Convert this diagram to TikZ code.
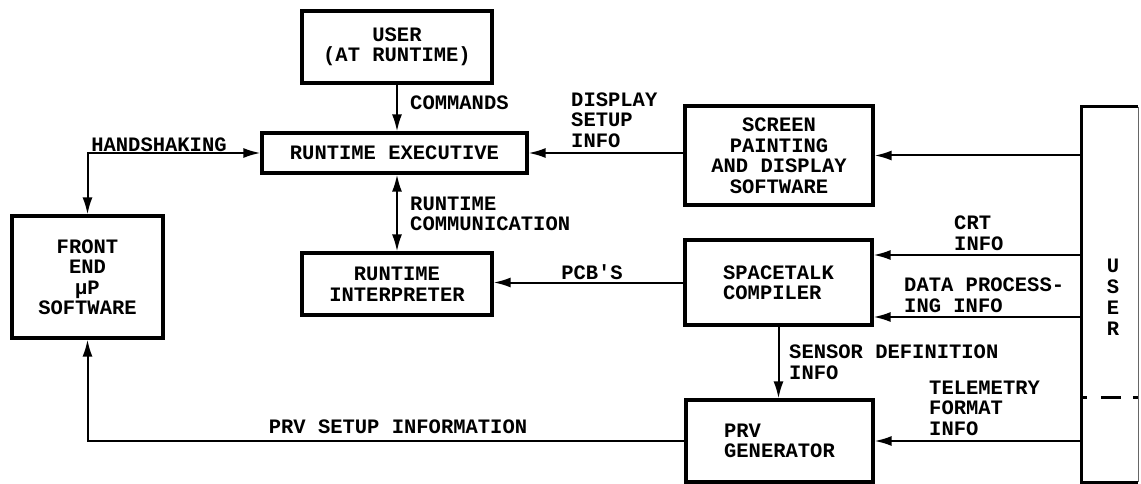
\documentclass[tikz,border=0pt]{standalone}
\usepackage{fontspec}
\setmainfont{Liberation Mono}
\usetikzlibrary{arrows.meta}

\begin{document}
\begin{tikzpicture}[
  x=1pt, y=-1pt,
  font=\fontsize{20.5}{20.5}\selectfont\bfseries,
  blk/.style={
    draw, line width=3.2pt,
    inner sep=0pt, align=center
  },
  arr/.style={-{Latex[length=17pt,width=10pt]},line width=2pt},
  darr/.style={{Latex[length=17pt,width=10pt]}-{Latex[length=17pt,width=10pt]},line width=2pt},
  lbl/.style={inner sep=0pt, align=left, anchor=west}
]
\useasboundingbox (0,0) rectangle (1141,484);

% blocks
\node[blk,minimum width=190pt,minimum height=72pt] (usr) at (397,47)
  {USER\\(AT RUNTIME)};
\node[blk,minimum width=265pt,minimum height=40pt] (rex) at (394.5,153)
  {RUNTIME EXECUTIVE};
\node[blk,minimum width=190pt,minimum height=62pt] (rin) at (397,284)
  {RUNTIME\\INTERPRETER};
\node[blk,minimum width=151pt,minimum height=122pt] (fe) at (87.5,277)
  {FRONT\\END\\µP\\SOFTWARE};
\node[blk,minimum width=188pt,minimum height=99pt] (scr) at (779,155.5)
  {SCREEN\\PAINTING\\AND DISPLAY\\SOFTWARE};
\node[blk,align=left,minimum width=187pt,minimum height=85pt] (stc) at (778.5,282.5)
  {SPACETALK\\COMPILER};
\node[blk,align=left,minimum width=187pt,minimum height=82pt] (prv) at (779.5,441)
  {PRV\\GENERATOR};
% tall user bar: thick on three sides, thin on the right
\node[inner sep=0pt,minimum width=56pt,minimum height=375pt] (usb) at (1110,294.5) {};
\draw[line width=3.2pt] (usb.north east) -- (usb.north west) -- (usb.south west) -- (usb.south east);
\draw[line width=0.8pt,black!60] (usb.north east) -- (usb.south east);
\node[inner sep=0pt,align=center,font=\fontsize{20.5}{21}\selectfont\bfseries] (usbt) at (1113,297)
  {U\\S\\E\\R};
\draw[line width=3pt,dash pattern=on 5pt off 14pt on 20pt off 12pt on 20pt]
  ([yshift=-102.5pt]usb.west) -- ([yshift=-102.5pt]usb.east);

% connectors
\draw[arr] (usr.south) -- (usr.south |- rex.north);
\draw[darr] (fe.north) |- (rex.west);
\draw[darr] (rin.north |- rex.south) -- (rin.north);
\draw[arr] (scr.west |- rex.east) -- (rex.east);
\draw[arr] (usb.west |- scr.east) -- (scr.east);
\draw[arr] ([yshift=27.5pt]stc.east -| usb.west) -- ([yshift=27.5pt]stc.east);
\draw[arr] ([yshift=-34.5pt]stc.east -| usb.west) -- ([yshift=-34.5pt]stc.east);
\draw[arr] (stc.west) -- (stc.west -| rin.east);
\draw[arr] (stc.south) -- (stc.south |- prv.north);
\draw[arr] (usb.west |- prv.east) -- (prv.east);
\draw[arr] (prv.west) -| (fe.south);

% labels
\node[lbl] (lcmd) at (410,103) {COMMANDS};
\node[inner sep=0pt] (lhs) at (159,145) {HANDSHAKING};
\node[lbl] (ldsp) at (571,120) {DISPLAY\\SETUP\\INFO};
\node[lbl] (lrtc) at (410,214) {RUNTIME\\COMMUNICATION};
\node[inner sep=0pt] (lpcb) at (592,272) {PCB\textquotesingle S};
\node[lbl] (lcrt) at (954,233) {CRT\\INFO};
\node[lbl] (ldat) at (904,295) {DATA PROCESS-\\ING INFO};
\node[lbl] (lsen) at (789,362) {SENSOR DEFINITION\\INFO};
\node[lbl] (ltel) at (929,408) {TELEMETRY\\FORMAT\\INFO};
\node[inner sep=0pt] (lprv) at (398,427) {PRV SETUP INFORMATION};
\end{tikzpicture}
\end{document}
